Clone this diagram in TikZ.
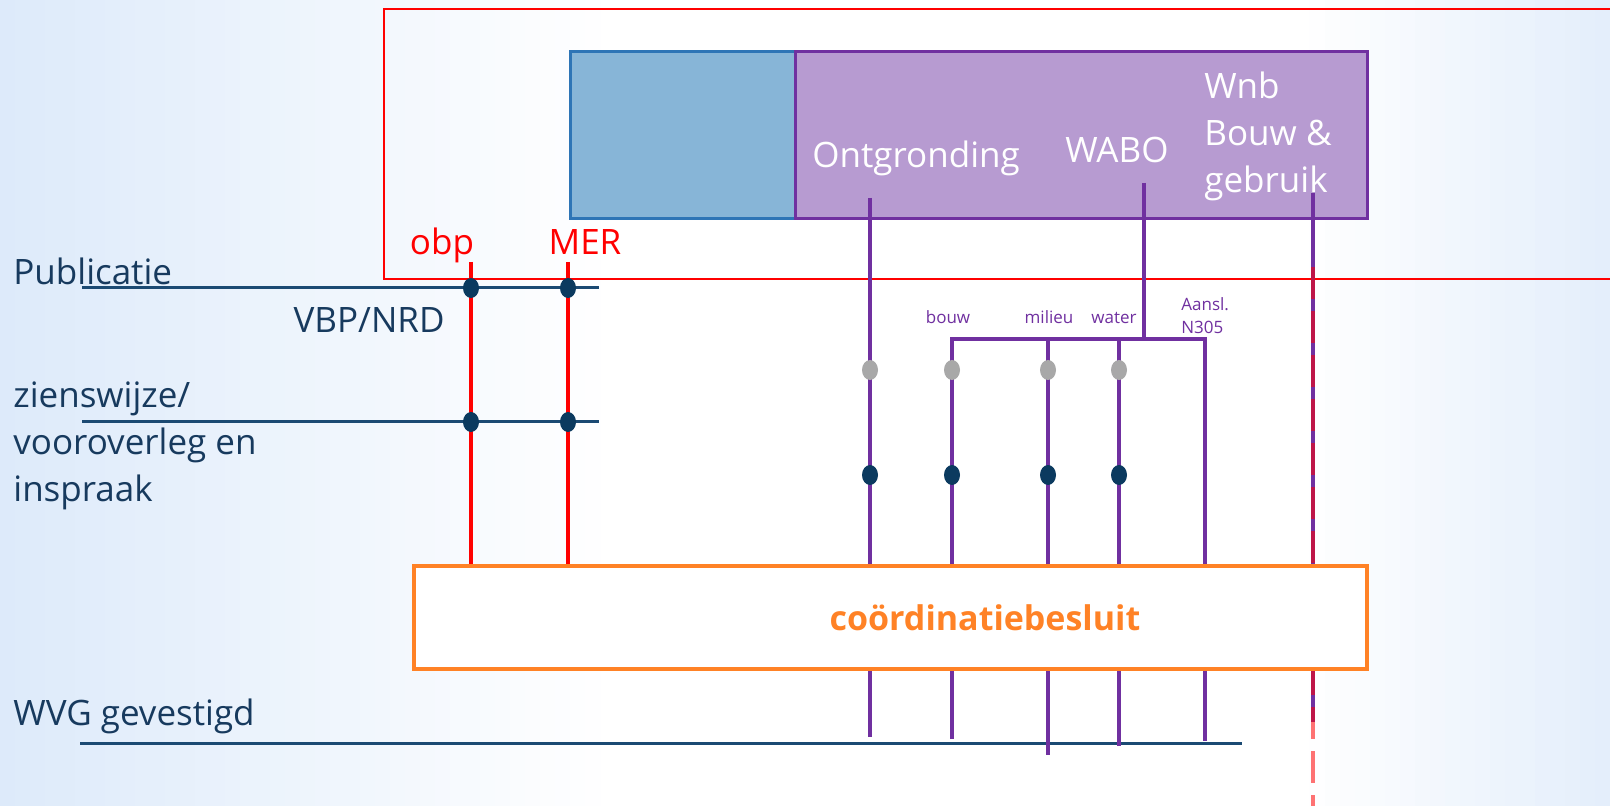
\documentclass[tikz,border=0pt]{standalone}
\usepackage{fontspec}
\setmainfont{Open Sans}
\usetikzlibrary{positioning,calc,shapes.geometric}

\definecolor{navy}{HTML}{173A5E}
\definecolor{faselijn}{HTML}{1B4A73}
\definecolor{stipblauw}{HTML}{0B3A5F}
\definecolor{paars}{HTML}{7030A0}
\definecolor{lila}{HTML}{B79BD1}
\definecolor{lichtblauw}{HTML}{87B5D7}
\definecolor{blauwrand}{HTML}{2E75B6}
\definecolor{oranje}{HTML}{FF8226}
\definecolor{grijs}{HTML}{A8A8A8}
\definecolor{achtergrond}{HTML}{DDEAFA}

\begin{document}
\begin{tikzpicture}[
  x = 0.5pt, y = -0.5pt,
  groot/.style = {font=\fontsize{17.5}{23.5}\selectfont, inner sep=0pt},
  klein/.style = {font=\fontsize{8.5}{11.5}\selectfont, text=paars, inner sep=0pt},
  fase/.style = {faselijn, line width=1.5pt},
  spoor/.style = {red, line width=2pt},
  paarslijn/.style = {paars, line width=2pt},
  stip/.style = {ellipse, fill=stipblauw, minimum width=8pt, minimum height=10pt, inner sep=0pt},
  grijsstip/.style = {stip, fill=grijs},
  ]
  \useasboundingbox (0,0) rectangle (1610,806);
  \fill[white] (0,0) rectangle (1610,806);
  \foreach \i [evaluate=\i as \p using 100-2.5*\i] in {0,...,39}
    \fill[achtergrond!\p!white] (\i*15,0) rectangle (\i*15+16,806);
  \foreach \i [evaluate=\i as \p using 80-4*\i] in {0,...,19}
    \fill[achtergrond!\p!white] (1610-\i*15-16,0) rectangle (1610-\i*15,806);

  \draw[red, line width=1pt] (1610,9) -| (384,279) -- (1610,279);

  \node[draw=blauwrand, fill=lichtblauw, line width=1.5pt, minimum width=112.5pt,
    minimum height=83.5pt, inner sep=0pt] (blauw) at (682.5,135.5) {};
  \node[draw=paars, fill=lila, line width=1.5pt, minimum width=286pt,
    minimum height=83.5pt, inner sep=0pt] (wetten) at (1081,135.5) {};

  \node[groot, text=white, anchor=base] (ontgr) at (916,168) {Ontgronding};
  \node[groot, text=white, anchor=base] (wabo) at (1117,163) {WABO};
  \node[groot, text=white, anchor=north west, align=left] (wnb) at (1204,72)
    {Wnb\\Bouw \&\\gebruik};

  \coordinate (pub links) at (82,288);
  \coordinate (pub rechts) at (599,288);
  \coordinate (zien links) at (82,422);
  \coordinate (zien rechts) at (599,422);
  \coordinate (wvg links) at (80,743);
  \coordinate (wvg rechts) at (1242,743);
  \draw[fase] (pub links) -- (pub rechts);
  \draw[fase] (zien links) -- (zien rechts);
  \draw[fase] (wvg links) -- (wvg rechts);

  \foreach \naam/\x in {obp/471, mer/568} {
    \coordinate (\naam top) at (\x,262);
    \coordinate (\naam eind) at (\x,566);
    \draw[spoor] (\naam top) -- (\naam eind);
  }

  \coordinate (bouw top) at (952,339);
  \coordinate (aansl top) at (1205,339);
  \coordinate (bouw eind) at (952,739);
  \coordinate (aansl eind) at (1205,741);
  \coordinate (wabo top) at (1144,183);
  \coordinate (wabo voet) at (1144,339);
  \draw[paarslijn] (bouw eind) -- (bouw top) -- (aansl top) -- (aansl eind);
  \draw[paarslijn] (wabo top) -- (wabo voet);
  \foreach \naam/\x/\ytop/\yend in {ontgr/870/198/737, milieu/1048/339/755, water/1119/339/746} {
    \coordinate (\naam top) at (\x,\ytop);
    \coordinate (\naam eind) at (\x,\yend);
    \draw[paarslijn] (\naam top) -- (\naam eind);
  }

  \coordinate (wnb top) at (1313,193);
  \coordinate (wnb onder) at (1313,722);
  \coordinate (wnb rood) at (1313,267);
  \coordinate (wnb eind) at (1313,806);
  \draw[paarslijn] (wnb top) -- (wnb onder);
  \draw[red, opacity=0.55, line width=2pt, dash pattern=on 16pt off 6pt] (wnb rood) -- (wnb eind);

  \node[draw=oranje, fill=white, line width=2pt, minimum width=476.5pt,
    minimum height=51.5pt, inner sep=0pt] (besluit) at (890.5,617.5) {};
  \node[groot, text=oranje, font=\fontsize{17}{20}\selectfont\bfseries, anchor=base]
    (besluittekst) at (985,630) {coördinatiebesluit};

  \foreach \naam/\x in {obp/471, mer/568} {
    \node[stip] (\naam pub) at (\x,288) {};
    \node[stip] (\naam zien) at (\x,422) {};
  }
  \foreach \naam/\x in {ontgr/870, bouw/952, milieu/1048, water/1119} {
    \node[grijsstip] (\naam grijs) at (\x,370) {};
    \node[stip] (\naam stip) at (\x,475) {};
  }

  \node[groot, text=red, anchor=base] (obp) at (442,255) {obp};
  \node[groot, text=red, anchor=base] (mer) at (585,255) {MER};

  \node[groot, text=navy, anchor=base west] (publicatie) at (13,285) {Publicatie};
  \node[groot, text=navy, anchor=base east] (vbp) at (445,333) {VBP/NRD};
  \node[groot, text=navy, anchor=north west, align=left] (zienswijze) at (13,381)
    {zienswijze/\\vooroverleg en\\inspraak};
  \node[groot, text=navy, anchor=base west] (wvg) at (13,725) {WVG gevestigd};

  \node[klein, anchor=base] (bouw) at (948,324) {bouw};
  \node[klein, anchor=base] (milieu) at (1049,324) {milieu};
  \node[klein, anchor=base] (water) at (1114,324) {water};
  \node[klein, anchor=north west, align=left] (aansl) at (1181,297) {Aansl.\\N305};
\end{tikzpicture}
\end{document}
